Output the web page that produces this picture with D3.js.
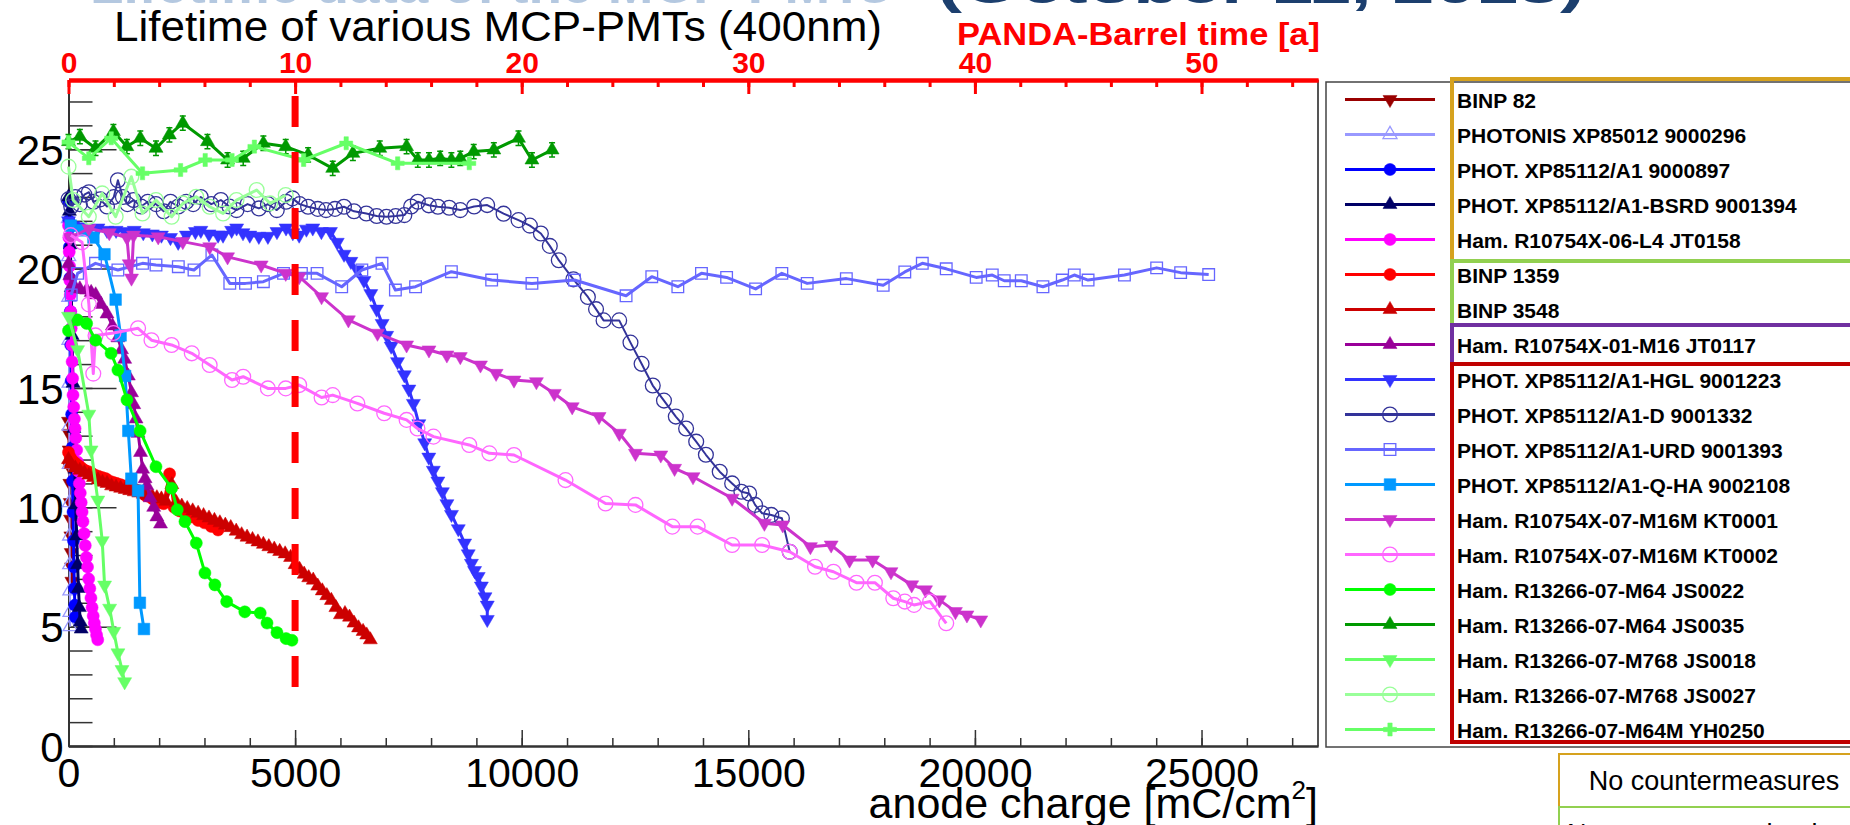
<!DOCTYPE html>
<html>
<head>
<meta charset="utf-8">
<title>Lifetime of various MCP-PMTs</title>
<script src="https://cdn.jsdelivr.net/npm/d3@7"></script>
<style>
  body { margin: 0; background: #fff; overflow: hidden; }
  text { font-family: "Liberation Sans", Arial, Helvetica, sans-serif; }
</style>
</head>
<body>
<div id="chart"></div>
<script>
// ---- data: [anode charge mC/cm2, QE %] ----
var binp82 = [[0,13.6],[8,13.1],[15,12.4],[22,11.7],[30,11.0],[38,10.2],[45,9.5],[52,8.8],[60,8.1],[68,7.5],[75,6.9]];
var photonis9000296 = [[0,22.1],[4,20.5],[7,18.8],[10,17.0],[13,15.2],[16,13.4],[19,11.8],[22,10.2],[25,8.8],[28,7.6],[31,6.5],[34,5.6],[37,5.0]];
var phot9000897 = [[0,22.8],[10,22.0],[20,20.9],[30,19.6],[40,18.2],[50,16.8],[60,15.3],[70,13.9],[80,12.5],[90,11.1],[100,9.8],[110,8.6],[120,7.5],[130,6.6],[140,5.9],[150,5.4]];
var photBsrd9001394 = [[0,23.0],[20,22.4],[40,21.0],[60,19.2],[80,17.2],[100,15.2],[120,13.3],[140,11.6],[160,10.1],[180,8.8],[200,7.6],[220,6.6],[240,5.8],[260,5.2],[280,4.9]];
var hamJT0158 = [[0,21.8],[8,21.3],[16,20.7],[24,20.1],[32,19.5],[40,18.9],[50,18.2],[60,17.5],[70,16.8],[80,16.1],[90,15.4],[100,14.7],[115,14.2],[130,13.7],[145,13.3],[160,12.9],[180,12.4],[200,11.9],[220,11.5],[240,11.0],[260,10.6],[280,10.2],[300,9.8],[320,9.4],[345,8.9],[370,8.4],[395,7.9],[420,7.5],[445,7.0],[470,6.6],[495,6.2],[520,5.8],[545,5.45],[570,5.15],[595,4.9],[620,4.65],[645,4.45]];
var binp1359 = [[0,12.3],[40,12.1],[90,11.95],[150,11.85],[220,11.75],[290,11.65],[360,11.55],[430,11.5],[500,11.45],[580,11.35],[660,11.3],[740,11.25],[820,11.2],[900,11.1],[980,11.05],[1060,11.0],[1140,10.95],[1220,10.9],[1300,10.85],[1380,10.8],[1460,10.75],[1540,10.7],[1620,10.6],[1700,10.5],[1780,10.45],[1860,10.35],[1940,10.3],[2020,10.2],[2100,10.15],[2230,11.4],[2330,10.0],[2450,9.85],[2580,9.7],[2720,9.6],[2860,9.45],[3000,9.35],[3150,9.2],[3300,9.05]];
var binp3548 = [[0,12.0],[60,11.8],[150,11.65],[250,11.55],[350,11.45],[450,11.35],[550,11.25],[650,11.15],[750,11.05],[850,11.0],[950,10.9],[1050,10.85],[1150,10.8],[1250,10.75],[1350,10.7],[1450,10.65],[1550,10.6],[1650,10.55],[1750,10.5],[1850,10.45],[1950,10.4],[2050,10.35],[2150,10.25],[2280,10.95],[2380,10.2],[2500,10.05],[2620,9.95],[2740,9.85],[2860,9.75],[2980,9.65],[3100,9.55],[3220,9.45],[3340,9.35],[3460,9.25],[3580,9.15],[3700,9.0],[3820,8.85],[3940,8.75],[4060,8.65],[4180,8.55],[4300,8.45],[4420,8.35],[4540,8.25],[4660,8.15],[4780,8.05],[4900,7.9],[5000,7.6],[5100,7.4],[5200,7.2],[5300,7.05],[5400,6.95],[5500,6.7],[5600,6.5],[5700,6.3],[5800,6.1],[5900,5.8],[6000,5.5],[6100,5.55],[6200,5.4],[6300,5.15],[6400,4.95],[6500,4.8],[6580,4.65],[6660,4.45]];
var hamJT0117 = [[0,20.2],[30,19.7],[80,19.3],[150,19.2],[250,19.15],[400,19.1],[500,19.0],[600,18.9],[720,18.5],[850,18.1],[970,17.6],[1090,17.1],[1170,16.6],[1240,16.2],[1320,15.5],[1390,14.8],[1440,14.3],[1490,13.7],[1535,13.1],[1590,12.3],[1635,11.6],[1690,11.2],[1730,10.9],[1800,10.4],[1880,10.0],[1950,9.6],[2030,9.3]];
var photHgl9001223 = [[0,22.0],[100,21.8],[250,21.75],[450,21.65],[650,21.7],[850,21.6],[1050,21.6],[1250,21.55],[1450,21.6],[1650,21.5],[1850,21.45],[2050,21.4],[2250,21.3],[2420,21.1],[2600,21.4],[2800,21.55],[2920,21.6],[3100,21.45],[3300,21.4],[3410,21.4],[3600,21.6],[3710,21.7],[3850,21.5],[4000,21.4],[4200,21.35],[4400,21.35],[4600,21.55],[4800,21.7],[4950,21.5],[5090,21.4],[5250,21.65],[5390,21.7],[5580,21.55],[5780,21.55],[5930,21.1],[6080,20.6],[6230,20.3],[6370,19.95],[6520,19.5],[6670,18.95],[6800,18.3],[6920,17.7],[7020,17.2],[7120,16.75],[7260,16.1],[7410,15.55],[7510,14.95],[7610,14.35],[7730,13.5],[7860,12.7],[7950,12.1],[8050,11.55],[8150,11.1],[8250,10.65],[8350,10.15],[8450,9.7],[8600,9.1],[8740,8.5],[8820,8.05],[8890,7.65],[8960,7.35],[9040,7.1],[9110,6.7],[9190,6.25],[9240,5.9],[9240,5.3]];
var photD9001332 = [[0,22.9],[60,22.6],[150,23.0],[250,22.7],[350,23.1],[450,23.2],[550,22.8],[700,22.9],[850,22.6],[1000,23.0],[1090,23.7],[1200,23.0],[1300,22.7],[1436,22.87],[1600,22.6],[1750,22.8],[1930,22.7],[2100,22.4],[2250,22.8],[2423,22.6],[2600,22.8],[2750,22.7],[2917,23.0],[3150,22.7],[3362,22.87],[3550,22.6],[3707,22.45],[3950,22.7],[4201,22.52],[4400,22.7],[4596,22.45],[4800,22.8],[4942,22.94],[5100,22.7],[5287,22.59],[5500,22.5],[5682,22.45],[5880,22.5],[6078,22.59],[6300,22.4],[6571,22.31],[6800,22.2],[7016,22.17],[7220,22.2],[7411,22.24],[7560,22.6],[7707,22.8],[7950,22.65],[8151,22.59],[8400,22.55],[8645,22.45],[8950,22.6],[9238,22.66],[9600,22.3],[9929,22.03],[10180,21.8],[10423,21.47],[10620,20.95],[10818,20.35],[11140,19.55],[11460,18.81],[11640,18.3],[11806,17.83],[12151,17.83],[12400,16.9],[12645,16.01],[12892,15.1],[13139,14.47],[13400,13.8],[13627,13.3],[13850,12.75],[14064,12.2],[14369,11.49],[14643,11.0],[14847,10.65],[15019,10.58],[15150,10.1],[15304,9.75],[15507,9.68],[15741,9.54],[15913,8.14]];
var photUrd9001393 = [[60,18.9],[201,19.8],[596,20.22],[1090,19.94],[1633,20.22],[1930,20.15],[2423,20.08],[2769,19.94],[3164,20.57],[3559,19.38],[3905,19.38],[4300,19.45],[4744,19.8],[5139,19.8],[5485,19.8],[6028,19.24],[6473,19.94],[6917,20.22],[7213,19.1],[7658,19.24],[8448,19.87],[9337,19.52],[10226,19.38],[11164,19.52],[12303,18.86],[12870,19.66],[13445,19.24],[13966,19.8],[14521,19.63],[15161,19.15],[15740,19.8],[16299,19.38],[17163,19.58],[17976,19.3],[18453,19.86],[18839,20.22],[19367,19.99],[20028,19.63],[20383,19.73],[20647,19.49],[21023,19.49],[21501,19.24],[21928,19.52],[22192,19.73],[22497,19.52],[23299,19.73],[24010,20.03],[24539,19.83],[25158,19.75]];
var photQha9002108 = [[50,21.8],[300,21.6],[550,21.3],[794,20.6],[1040,18.7],[1150,17.2],[1250,15.5],[1320,13.2],[1386,11.2],[1535,10.7],[1575,6.0],[1665,4.9]];
var hamKT0001 = [[50,21.3],[448,21.68],[900,21.5],[1290,21.3],[1340,20.2],[1390,19.6],[1436,21.4],[1979,21.33],[2522,21.13],[3115,20.91],[3510,20.49],[4251,20.15],[4793,19.8],[5090,19.66],[5584,18.82],[6176,17.85],[6818,17.29],[7460,16.8],[7954,16.59],[8349,16.38],[8645,16.31],[9090,15.96],[9435,15.61],[9830,15.33],[10324,15.26],[10719,14.77],[11114,14.21],[11707,13.8],[12154,13.1],[12510,12.26],[13069,12.19],[13373,11.63],[13780,11.28],[14643,10.38],[15355,9.33],[15760,9.26],[16370,8.35],[16828,8.42],[17234,7.79],[17742,7.79],[18148,7.3],[18605,6.75],[18910,6.54],[19215,6.12],[19570,5.63],[19824,5.49],[20129,5.28]];
var hamKT0002 = [[50,21.4],[300,21.1],[450,18.5],[547,15.6],[596,17.2],[991,17.3],[1535,17.5],[1831,17.0],[2275,16.8],[2720,16.45],[3115,15.96],[3608,15.33],[3855,15.47],[4399,14.98],[4793,14.98],[5090,15.12],[5584,14.6],[5830,14.7],[6374,14.35],[6966,13.94],[7460,13.66],[7700,13.3],[8053,12.96],[8843,12.61],[9287,12.26],[9830,12.19],[10966,11.14],[11850,10.16],[12510,10.1],[13323,9.19],[13882,9.19],[14643,8.42],[15304,8.42],[15913,8.14],[16472,7.51],[16879,7.3],[17386,6.84],[17793,6.84],[18199,6.19],[18453,6.05],[18656,5.91],[19012,6.05],[19367,5.14]];
var hamJS0022 = [[0,17.4],[200,17.85],[400,17.7],[600,17.0],[940,16.45],[1090,15.75],[1290,14.5],[1580,13.2],[1930,11.7],[2275,10.8],[2400,9.9],[2570,9.4],[2820,8.5],[3010,7.25],[3230,6.75],[3490,6.05],[3890,5.62],[4230,5.57],[4380,5.15],[4600,4.75],[4800,4.5],[4930,4.43]];
var hamJS0035 = [[0,25.32],[251,25.53],[596,25.04],[991,25.74],[1288,25.11],[1584,25.46],[1930,25.04],[2226,25.6],[2522,26.09],[3066,25.32],[3510,24.55],[3855,24.62],[4300,25.25],[4793,25.11],[5287,24.76],[5830,24.2],[6275,24.83],[6868,25.04],[7460,25.11],[7707,24.55],[7954,24.55],[8201,24.62],[8448,24.55],[8645,24.62],[8941,24.9],[9385,24.97],[9929,25.46],[10226,24.55],[10670,24.97]];
var hamJS0018 = [[0,18.0],[201,16.6],[448,13.9],[498,12.4],[646,10.3],[744,8.6],[796,6.74],[907,5.77],[1000,4.8],[1091,3.9],[1180,3.2],[1239,2.69]];
var hamJS0027 = [[0,24.27],[102,22.87],[448,22.17],[744,23.15],[1040,22.17],[1386,23.85],[1633,22.31],[1930,22.87],[2275,22.17],[2522,22.73],[2818,23.01],[3115,22.59],[3411,22.31],[3707,22.87],[4152,23.29],[4448,22.73],[4793,23.08]];
var hamYH0250 = [[0,25.3],[448,24.62],[942,25.46],[1633,23.99],[2473,24.13],[3016,24.55],[3608,24.55],[4102,25.11],[5188,24.55],[6127,25.25],[7263,24.41],[8843,24.41]];
var js0035Error = 0.3;

var seriesLabels = ["BINP 82", "PHOTONIS XP85012 9000296", "PHOT. XP85112/A1 9000897",
  "PHOT. XP85112/A1-BSRD 9001394", "Ham. R10754X-06-L4 JT0158", "BINP 1359", "BINP 3548",
  "Ham. R10754X-01-M16 JT0117", "PHOT. XP85112/A1-HGL 9001223", "PHOT. XP85112/A1-D 9001332",
  "PHOT. XP85112/A1-URD 9001393", "PHOT. XP85112/A1-Q-HA 9002108", "Ham. R10754X-07-M16M KT0001",
  "Ham. R10754X-07-M16M KT0002", "Ham. R13266-07-M64 JS0022", "Ham. R13266-07-M64 JS0035",
  "Ham. R13266-07-M768 JS0018", "Ham. R13266-07-M768 JS0027", "Ham. R13266-07-M64M YH0250"];
var seriesValues = [binp82, photonis9000296, phot9000897, photBsrd9001394, hamJT0158, binp1359, binp3548,
  hamJT0117, photHgl9001223, photD9001332, photUrd9001393, photQha9002108, hamKT0001, hamKT0002,
  hamJS0022, hamJS0035, hamJS0018, hamJS0027, hamYH0250];

var xMajorTicks = [0, 5000, 10000, 15000, 20000, 25000];
var yMajorTicks = [0, 5, 10, 15, 20, 25];
var yearMajorTicks = [0, 10, 20, 30, 40, 50];
var pandaTenYears = 5000;      // 10 years of PANDA barrel running
var groupLabels = ["No countermeasures", "New vacuum technology"];
var groupRanges = [[0, 5], [5, 7], [7, 8], [8, 19]];

// ---- styles ----
var seriesStyle = [
  {c: "#990000", m: "down"}, {c: "#9999ff", m: "up", open: true, lw: 2},
  {c: "#0000ff", m: "circle"}, {c: "#000066", m: "up"}, {c: "#ff00ff", m: "circle"},
  {c: "#ff0000", m: "circle"}, {c: "#cc0000", m: "up"}, {c: "#990099", m: "up"},
  {c: "#3333ff", m: "down"}, {c: "#333399", m: "circle", open: true, lw: 2},
  {c: "#6666ff", m: "square", open: true}, {c: "#0099ff", m: "square"}, {c: "#cc33cc", m: "down"},
  {c: "#ff66ff", m: "circle", open: true}, {c: "#00ff00", m: "circle"}, {c: "#009900", m: "up"},
  {c: "#66ff66", m: "down"}, {c: "#99ff99", m: "circle", open: true}, {c: "#66ff66", m: "cross"}
];
var groupColors = ["#d6a21e", "#92d050", "#7030a0", "#c00000"];

var svg = d3.select("#chart").append("svg").attr("width", 1850).attr("height", 825);

var x = d3.scaleLinear().domain([0, 27570]).range([68.5, 1318]);
var xYears = d3.scaleLinear().domain([0, 27570 / 500]).range([68.5, 1318]);
var y = d3.scaleLinear().domain([0, 27.9]).range([746, 80]);

// cut-off slide headline at the very top
svg.append("text").attr("x", 90).attr("y", 3).attr("textLength", 800).attr("lengthAdjust", "spacingAndGlyphs")
  .style("font-size", "50px").style("font-weight", "bold").style("fill", "#b4c8e0")
  .text("Lifetime data of the MCP-PMTs");
svg.append("text").attr("x", 937).attr("y", 3).attr("textLength", 648).attr("lengthAdjust", "spacingAndGlyphs")
  .style("font-size", "50px").style("font-weight", "bold").style("fill", "#1c3f6e")
  .text("(October 11, 2018)");

// titles
svg.append("text").attr("x", 114).attr("y", 41).attr("textLength", 768).attr("lengthAdjust", "spacingAndGlyphs")
  .style("font-size", "42px").text("Lifetime of various MCP-PMTs (400nm)");
svg.append("text").attr("x", 957).attr("y", 45).attr("textLength", 363).attr("lengthAdjust", "spacingAndGlyphs")
  .style("font-size", "31px").style("font-weight", "bold").style("fill", "#ff0000")
  .text("PANDA-Barrel time [a]");

// right frame
svg.append("line").attr("x1", 1318).attr("x2", 1318).attr("y1", 80).attr("y2", 746)
  .attr("stroke", "#555").attr("stroke-width", 2);

// bottom axis
var gxMinor = svg.append("g").attr("transform", "translate(0,746)")
  .call(d3.axisBottom(x).tickValues(d3.range(0, 27001, 1000)).tickSize(-8).tickSizeOuter(0).tickFormat(""));
var gx = svg.append("g").attr("transform", "translate(0,746)")
  .call(d3.axisBottom(x).tickValues(xMajorTicks).tickSize(-16).tickSizeOuter(0).tickPadding(12).tickFormat(d3.format("d")));
gx.selectAll("text").style("font-size", "41px").style("fill", "#000");

// left axis
var gyMinor = svg.append("g").attr("transform", "translate(68.5,0)")
  .call(d3.axisLeft(y).tickValues(d3.range(0, 28, 1)).tickSize(-24).tickSizeOuter(0).tickFormat(""));
var gy = svg.append("g").attr("transform", "translate(68.5,0)")
  .call(d3.axisLeft(y).tickValues(yMajorTicks).tickSize(-48).tickSizeOuter(0).tickPadding(5));
gy.selectAll("text").style("font-size", "42px").style("fill", "#000").attr("dy", "0.36em");

[gxMinor, gx, gyMinor, gy].forEach(function (g) {
  g.selectAll("line").attr("stroke", "#333").attr("stroke-width", 1.5);
  g.select(".domain").attr("stroke", "#333").attr("stroke-width", 2);
});

// top axis in years
var gtMinor = svg.append("g").attr("transform", "translate(0,80)")
  .call(d3.axisTop(xYears).tickValues(d3.range(0, 56, 2)).tickSize(-7).tickSizeOuter(0).tickFormat(""));
var gt = svg.append("g").attr("transform", "translate(0,80)")
  .call(d3.axisTop(xYears).tickValues(yearMajorTicks).tickSize(-14).tickSizeOuter(0).tickPadding(7));
gt.selectAll("text").style("font-size", "30px").style("font-weight", "bold").style("fill", "#ff0000");
[gtMinor, gt].forEach(function (g) {
  g.selectAll("line").attr("stroke", "#ff0000").attr("stroke-width", 3);
  g.select(".domain").attr("stroke", "#ff0000").attr("stroke-width", 4);
});

// axis title
var at = svg.append("text").attr("x", 1318).attr("y", 818).attr("text-anchor", "end").style("font-size", "43px");
at.append("tspan").text("anode charge [mC/cm");
at.append("tspan").attr("dy", -19).style("font-size", "26px").text("2");
at.append("tspan").attr("dy", 19).text("]");

// markers
function markerPath(m, scale) {
  var k = scale || 1;
  if (m === "circle") return d3.symbol(d3.symbolCircle, 115 * k)();
  if (m === "square") return d3.symbol(d3.symbolSquare, 135 * k)();
  if (m === "cross") return d3.symbol(d3.symbolCross, 95 * k)();
  return d3.symbol(d3.symbolTriangle, 85 * k)();
}
function drawMarker(sel, st) {
  var big = st.open && st.m === "circle" ? 1.5 : 1;
  sel.attr("d", markerPath(st.m, big))
    .attr("fill", st.open ? "none" : st.c)
    .attr("stroke", st.c)
    .attr("stroke-width", st.open ? 1.3 : 0.5);
}

var line = d3.line().x(function (d) { return x(d[0]); }).y(function (d) { return y(d[1]); });

seriesValues.forEach(function (data, i) {
  var st = seriesStyle[i];
  var g = svg.append("g");
  g.append("path").datum(data).attr("d", line).attr("fill", "none")
    .attr("stroke", st.c).attr("stroke-width", st.lw || 3).attr("stroke-linejoin", "round");
  if (data === hamJS0035) {
    g.selectAll("path.err").data(data).enter().append("path").attr("class", "err")
      .attr("d", function (d) {
        var xx = x(d[0]), y1 = y(d[1] + js0035Error), y0 = y(d[1] - js0035Error);
        return "M" + (xx - 3) + "," + y1 + "H" + (xx + 3) + "M" + xx + "," + y1 + "V" + y0 + "M" + (xx - 3) + "," + y0 + "H" + (xx + 3);
      })
      .attr("stroke", st.c).attr("stroke-width", 1.5).attr("fill", "none");
  }
  g.selectAll("path.m").data(data).enter().append("path").attr("class", "m")
    .attr("transform", function (d) {
      return "translate(" + x(d[0]) + "," + y(d[1]) + ")" + (st.m === "down" ? " rotate(180)" : "");
    })
    .call(drawMarker, st);
});

// PANDA 10-year line
svg.append("path").datum([[pandaTenYears, 27.23], [pandaTenYears, 2.47]]).attr("d", line)
  .attr("stroke", "#ff0000").attr("stroke-width", 7).attr("stroke-dasharray", "31,25").attr("fill", "none");

// legend
var lg = svg.append("g");
lg.append("rect").attr("x", 1326).attr("y", 82).attr("width", 560).attr("height", 665)
  .attr("fill", "#fff").attr("stroke", "#444").attr("stroke-width", 1.5);
seriesLabels.forEach(function (name, i) {
  var st = seriesStyle[i], cy = 82 + 35 * (i + 0.5);
  lg.append("line").attr("x1", 1345).attr("x2", 1435).attr("y1", cy).attr("y2", cy)
    .attr("stroke", st.c).attr("stroke-width", 3);
  lg.append("path").attr("transform", "translate(1390," + cy + ")" + (st.m === "down" ? " rotate(180)" : ""))
    .call(drawMarker, st);
  lg.append("text").attr("x", 1457).attr("y", cy + 8).style("font-size", "21px").style("font-weight", "bold")
    .text(name);
});

// coloured group frames over the legend
var groupEdges = [79, 261, 325, 364, 742];
groupRanges.forEach(function (r, i) {
  lg.append("rect").attr("x", 1452).attr("y", groupEdges[i]).attr("width", 450)
    .attr("height", groupEdges[i + 1] - groupEdges[i])
    .attr("fill", "none").attr("stroke", groupColors[i]).attr("stroke-width", 4);
});

// group explanation boxes
var boxTops = [754, 807];
groupLabels.forEach(function (t, i) {
  svg.append("rect").attr("x", 1559).attr("y", boxTops[i]).attr("width", 330).attr("height", 53)
    .attr("fill", "#fff").attr("stroke", groupColors[i]).attr("stroke-width", 2);
  svg.append("text").attr("x", 1714).attr("y", boxTops[i] + 36).attr("text-anchor", "middle")
    .style("font-size", "27px").text(t);
});
</script>
</body>
</html>
